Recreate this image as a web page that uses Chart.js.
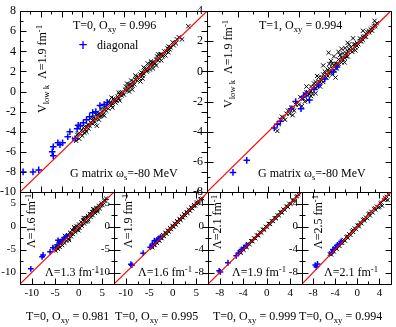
<!DOCTYPE html>
<html>
<head>
<meta charset="utf-8">
<script src="https://cdn.jsdelivr.net/npm/chart.js@4.4.0/dist/chart.umd.min.js"></script>
<style>
  body { margin: 0; width: 396px; height: 327px; background: #fff; position: relative; overflow: hidden; font-family: "Liberation Serif", serif; }
  canvas { position: absolute; left: 0; top: 0; }
  .lbl { position: absolute; white-space: nowrap; font-size: 12px; line-height: 1; color: #000; }
  .lbl sub { font-size: 0.72em; vertical-align: -0.35em; line-height: 0; }
  .lbl sup { font-size: 0.72em; vertical-align: 0.5em; line-height: 0; }
  .rot { transform: translate(-50%, -50%) rotate(-90deg); }
  .mid { transform: translateY(-50%); }
</style>
</head>
<body>
<canvas id="tl" width="396" height="327"></canvas>
<canvas id="tr" width="396" height="327"></canvas>
<canvas id="b1" width="396" height="327"></canvas>
<canvas id="b2" width="396" height="327"></canvas>
<canvas id="b3" width="396" height="327"></canvas>
<canvas id="b4" width="396" height="327"></canvas>

<div class="lbl mid" style="left:73px;top:25px">T=0, O<sub>xy</sub> = 0.996</div>
<div class="lbl mid" style="left:259px;top:25px">T=1, O<sub>xy</sub> = 0.994</div>
<div class="lbl mid" style="left:78px;top:45px;color:#0000ff;font-weight:bold;font-family:'DejaVu Sans'">+</div>
<div class="lbl mid" style="left:97px;top:45px">diagonal</div>
<div class="lbl mid" style="left:70px;top:173px">G matrix &omega;<sub>s</sub>=-80 MeV</div>
<div class="lbl mid" style="left:258px;top:173px">G matrix &omega;<sub>s</sub>=-80 MeV</div>
<div class="lbl rot" style="left:42px;top:69px">V<sub>low k</sub>&nbsp;&nbsp;&Lambda;=1.9 fm<sup>-1</sup></div>
<div class="lbl rot" style="left:228px;top:64px">V<sub>low k</sub>&nbsp;&nbsp;&Lambda;=1.9 fm<sup>-1</sup></div>

<div class="lbl rot" style="left:31px;top:221px">&Lambda;=1.6 fm<sup>-1</sup></div>
<div class="lbl rot" style="left:128px;top:221px">&Lambda;=1.9 fm<sup>-1</sup></div>
<div class="lbl rot" style="left:217px;top:222px">&Lambda;=2.1 fm<sup>-1</sup></div>
<div class="lbl rot" style="left:318px;top:222px">&Lambda;=2.5 fm<sup>-1</sup></div>
<div class="lbl mid" style="left:45px;top:272px">&Lambda;=1.3 fm<sup>-1</sup></div>
<div class="lbl mid" style="left:138px;top:272px">&Lambda;=1.6 fm<sup>-1</sup></div>
<div class="lbl mid" style="left:232px;top:272px">&Lambda;=1.9 fm<sup>-1</sup></div>
<div class="lbl mid" style="left:324px;top:272px">&Lambda;=2.1 fm<sup>-1</sup></div>

<div class="lbl mid" style="left:26px;top:316px">T=0, O<sub>xy</sub> = 0.981</div>
<div class="lbl mid" style="left:115px;top:316px">T=0, O<sub>xy</sub> = 0.995</div>
<div class="lbl mid" style="left:213px;top:316px">T=0, O<sub>xy</sub> = 0.999</div>
<div class="lbl mid" style="left:299px;top:316px">T=0, O<sub>xy</sub> = 0.994</div>

<script>
// axis ranges (x and y share the same range in every panel)
const topLeftRange = [-10, 8];
const topRightRange = [-8, 4];
const wideRange = [-12.5, 7.5];
const narrowRange = [-10, 6];

// tick labels
const topLeftTicks = [-10, -8, -6, -4, -2, 0, 2, 4, 6, 8];
const topRightTicks = [-8, -6, -4, -2, 0, 2, 4];
const wideTicks = [-10, -5, 0, 5];
const narrowTicks = [-8, -4, 0, 4];

// top left: T=0, lambda 1.9
const tlBlack = [[-4.8,-4.7],[-4.6,-4.9],[-4.4,-4.2],[-4.2,-4.2],[-4.0,-4.4],[-3.9,-3.6],[-3.7,-3.8],[-3.5,-3.3],[-3.4,-3.7],[-3.2,-3.1],
  [-3.0,-3.2],[-2.9,-2.6],[-2.7,-2.7],[-2.6,-3.4],[-2.5,-2.3],[-2.3,-2.5],[-2.1,-2.0],[-2.0,-2.3],[-1.8,-1.5],[-1.6,-1.6],
  [-1.5,-1.7],[-1.3,-1.1],[-1.1,-1.2],[-1.0,-0.7],[-0.8,-1.1],[-0.6,-0.5],[-0.5,-0.7],[-0.3,-0.1],[-0.1,-0.1],[0.0,-0.3],
  [0.2,0.5],[0.4,0.3],[0.5,0.7],[0.7,0.5],[0.9,1.0],[1.0,0.7],[1.2,1.5],[1.4,1.4],[1.5,1.3],[1.7,1.9],
  [1.9,1.8],[2.0,2.3],[2.2,2.0],[2.4,2.5],[2.5,2.2],[2.7,2.9],[2.9,2.9],[3.0,2.8],[3.2,3.5],[3.4,3.3],
  [3.5,3.7],[3.7,3.5],[3.9,4.0],[4.1,4.0],[4.3,4.5],[4.5,4.4],[4.7,4.9],[5.0,4.8],[5.3,5.4],[5.6,5.2],[6.2,6.5],
  [-3.1,-2.6],[-2.2,-1.7],[-1.2,-0.6],[0.3,0.8],[1.1,1.6],[2.3,2.8],[3.3,3.7],[-0.4,-0.9],[1.6,1.0],[2.8,2.3],
  [4.0,3.6],[-4.3,-4.7],[-1.9,-2.4],[0.8,0.2],[3.6,3.1],
  [-4.5,-4.3],[-4.1,-3.9],[-3.8,-4.1],[-3.6,-3.5],[-3.3,-3.4],[-3.0,-2.9],[-2.8,-3.0],[-2.4,-2.2],[-2.2,-2.4],[-1.9,-1.8],
  [-1.7,-1.9],[-1.4,-1.2],[-1.2,-1.4],[-0.9,-0.8],[-0.7,-0.9],[-0.4,-0.3],[-0.2,-0.4],[0.1,0.2],[0.3,0.1],[0.6,0.7],
  [0.8,0.6],[1.1,1.2],[1.3,1.1],[1.6,1.7],[1.8,1.6],[2.1,2.2],[2.3,2.1],[2.6,2.7],[2.8,2.6],[3.1,3.2],
  [3.3,3.1],[3.6,3.7],[3.8,3.6],[4.2,4.3],[4.4,4.2],[4.8,4.6],[5.1,5.2],[-2.7,-2.3],[-1.5,-1.0],[-0.5,-0.1],
  [0.7,1.1],[1.9,2.4],[2.6,3.0],[-3.6,-4.0],[-2.4,-2.8],[-1.1,-1.6],[0.5,0.0],[1.8,1.3],[3.1,2.6],[4.3,3.9]];
const tlBlue = [[-9.7,-8.0],[-8.75,-8.0],[-8.2,-7.8],[-6.9,-6.0],[-6.8,-5.5],[-6.8,-6.4],[-6.35,-5.1],[-6.15,-5.3],[-5.9,-5.1],
  [-5.4,-4.5],[-5.2,-4.0],[-4.7,-4.7],[-4.5,-3.7],[-4.4,-3.35],[-4.2,-3.4],[-3.9,-3.1],[-3.6,-2.8],[-3.3,-2.5],[-3.0,-2.1],
  [-2.7,-2.0],[-2.3,-1.4],[-1.9,-1.3],[-1.6,-1.1]];

// top right: T=1, lambda 1.9
const trBlack = [[-3.3,-3.5],[-3.1,-3.0],[-2.9,-3.2],[-2.8,-2.8],[-2.6,-2.8],[-2.5,-2.4],[-2.3,-2.6],[-2.2,-2.2],[-2.0,-2.2],[-1.9,-1.7],
  [-1.7,-1.8],[-1.6,-2.0],[-1.5,-1.4],[-1.3,-1.5],[-1.2,-1.0],[-1.1,-1.5],[-1.0,-1.0],[-0.9,-0.7],[-0.8,-1.0],[-0.7,-0.4],
  [-0.6,-0.7],[-0.5,-0.4],[-0.4,-0.7],[-0.3,0.0],[-0.2,-0.2],[-0.1,-0.3],[0.0,0.2],[0.1,0.0],[0.2,0.5],[0.3,0.1],
  [0.4,0.5],[0.5,0.2],[0.6,0.8],[0.7,0.7],[0.8,0.6],[0.9,1.2],[1.0,0.9],[1.1,1.2],[1.2,1.0],[1.3,1.5],
  [1.4,1.4],[1.5,1.3],[1.6,1.8],[1.7,1.6],[1.8,1.9],[1.9,1.8],[2.0,2.2],[2.1,2.0],[2.2,2.3],[2.3,2.3],
  [2.4,2.3],[2.5,2.6],[2.6,2.6],[2.7,2.8],[2.8,2.7],[2.9,3.0],[3.0,3.0],[3.1,3.2],
  [-0.05,1.24],[0.3,1.0],[1.04,1.56],[0.6,1.3],[1.55,2.2],[2.2,2.7],[2.96,3.36],[-1.2,-1.64],[-0.9,-1.45],[0.4,-0.4],
  [-3.4,-3.95],[1.2,1.9],[-0.4,0.4],[-1.8,-2.3],[-2.4,-2.9],[0.1,0.7],[0.8,1.5],
  [-3.2,-3.2],[-3.0,-3.1],[-2.7,-2.6],[-2.4,-2.5],[-2.1,-2.1],[-1.8,-1.8],[-1.6,-1.5],[-1.4,-1.6],[-1.2,-1.3],[-1.0,-0.8],
  [-0.9,-1.1],[-0.7,-0.7],[-0.5,-0.6],[-0.4,-0.2],[-0.2,-0.4],[-0.1,0.1],[0.0,-0.1],[0.2,0.2],[0.3,0.4],[0.5,0.5],
  [0.6,0.5],[0.8,0.9],[0.9,0.8],[1.1,1.0],[1.2,1.3],[1.4,1.6],[1.5,1.5],[1.7,1.8],[1.8,1.7],[2.0,2.0],
  [2.2,2.1],[2.4,2.5],[2.6,2.7],[2.8,2.9],[3.0,3.1],[-1.5,-1.0],[-0.8,-0.3],[0.0,0.5],[0.7,1.1],[1.3,1.8],
  [-1.4,-1.9],[-0.6,-1.0],[0.2,-0.2],[1.0,0.6],[1.7,1.4]];
const trBlue = [[-6.3,-6.7],[-5.4,-5.9],[-3.6,-3.75],[-3.4,-3.5],[-3.2,-3.3],[-2.5,-2.47],[-1.85,-2.47],[-2.2,-2.0],[-1.7,-1.7],
  [-1.5,-1.45],[-1.3,-1.9],[-1.0,-1.2],[-0.7,-0.9],[-0.3,-0.5],[0.27,-0.04],[0.5,0.3]];

// bottom row, T=0
const b1Black = [[-5.2,-4.6],[-4.9,-5.3],[-4.7,-4.2],[-4.4,-4.9],[-4.2,-3.6],[-4.0,-4.5],[-3.7,-3.2],[-3.5,-4.1],[-3.3,-2.8],[-3.0,-3.6],
  [-2.8,-2.2],[-2.6,-3.1],[-2.3,-1.8],[-2.1,-2.7],[-1.9,-1.3],[-1.6,-2.2],[-1.4,-0.8],[-1.2,-1.7],[-0.9,-0.4],[-0.7,-1.2],
  [-0.5,0.1],[-0.2,-0.8],[0.0,0.5],[0.2,-0.3],[0.5,1.0],[0.7,0.1],[0.9,1.4],[1.2,0.6],[1.4,1.9],[1.6,1.0],
  [1.9,2.3],[2.1,1.5],[2.3,2.8],[2.6,2.0],[2.8,3.2],[3.0,2.4],[3.3,3.7],[3.5,2.9],[3.7,4.1],[4.0,3.5],
  [4.2,4.5],[4.5,3.9],[4.8,5.1],[5.1,4.6],[5.4,5.6],[5.8,6.1],
  [-4.5,-4.5],[-3.8,-3.8],[-3.1,-3.0],[-2.4,-2.4],[-1.7,-1.6],[-1.0,-1.0],[-0.3,-0.2],[0.4,0.4],[1.1,1.1],[1.8,1.8],
  [2.5,2.5],[3.2,3.1],[3.9,3.9],[4.6,4.5],[5.3,5.2],
  [-4.8,-4.6],[-4.3,-4.2],[-3.6,-3.6],[-2.9,-2.8],[-2.2,-2.1],[-1.5,-1.5],[-0.8,-0.7],[-0.1,0.0],[0.6,0.6],[1.3,1.4],
  [2.0,2.0],[2.7,2.7],[3.4,3.4],[4.1,4.1],[4.8,4.7],[5.6,5.7],[-3.0,-2.0],[-1.0,-0.1],[1.0,1.9],[3.0,3.8],
  [-2.0,-3.0],[0.0,-0.9],[2.0,1.1],[4.0,3.2]];
const b1Blue = [[-10.2,-9.2],[-7.8,-6.6],[-7.6,-6.2],[-6.1,-5.5],[-5.5,-4.6],[-4.6,-4.0],[-4.4,-3.0],[-3.9,-3.3],[-3.5,-2.9],[-3.0,-2.4],[-2.6,-2.1]];

const b2Black = [[-4.6,-4.4],[-4.3,-4.6],[-4.1,-3.8],[-3.8,-4.1],[-3.6,-3.3],[-3.3,-3.6],[-3.1,-2.8],[-2.8,-3.1],[-2.6,-2.3],[-2.3,-2.6],
  [-2.1,-1.8],[-1.8,-2.1],[-1.6,-1.3],[-1.3,-1.6],[-1.1,-0.8],[-0.8,-1.1],[-0.6,-0.3],[-0.3,-0.6],[-0.1,0.2],[0.2,-0.1],
  [0.4,0.7],[0.7,0.4],[0.9,1.2],[1.2,0.9],[1.4,1.7],[1.7,1.4],[1.9,2.2],[2.2,1.9],[2.4,2.7],[2.7,2.4],
  [2.9,3.2],[3.2,2.9],[3.4,3.7],[3.7,3.4],[3.9,4.2],[4.2,3.9],[4.5,4.7],[4.8,4.5],[5.1,5.3],[5.4,5.1],[5.8,5.9],[6.3,6.1],
  [-4.0,-4.0],[-3.0,-3.0],[-2.0,-2.0],[-1.0,-1.0],[0.0,0.0],[1.0,1.0],[2.0,2.0],[3.0,3.0],[4.0,4.0],[5.0,5.0],
  [-4.4,-4.3],[-3.5,-3.5],[-2.5,-2.5],[-1.5,-1.5],[-0.5,-0.5],[0.5,0.5],[1.5,1.5],[2.5,2.5],[3.5,3.5],[4.5,4.4],[5.5,5.5],[6.0,6.0]];
const b2Blue = [[-8.9,-8.2],[-8.7,-8.4],[-6.3,-5.8],[-4.8,-4.5],[-4.3,-3.8],[-3.9,-3.1],[-3.4,-3.0],[-3.1,-2.7],[-2.6,-2.3]];

const b3Black = [[-4.7,-4.5],[-4.4,-4.6],[-4.2,-4.0],[-3.9,-4.1],[-3.7,-3.5],[-3.4,-3.6],[-3.2,-3.0],[-2.9,-3.1],[-2.7,-2.5],[-2.4,-2.6],
  [-2.2,-2.0],[-1.9,-2.1],[-1.7,-1.5],[-1.4,-1.6],[-1.2,-1.0],[-0.9,-1.1],[-0.7,-0.5],[-0.4,-0.6],[-0.2,0.0],[0.1,-0.1],
  [0.3,0.5],[0.6,0.4],[0.8,1.0],[1.1,0.9],[1.3,1.5],[1.6,1.4],[1.8,2.0],[2.1,1.9],[2.3,2.5],[2.6,2.4],
  [2.8,3.0],[3.1,2.9],[3.3,3.5],[3.6,3.4],[3.8,4.0],[4.1,3.9],[4.4,4.6],[4.7,4.6],[5.0,5.2],[5.4,5.6],
  [-4.5,-4.4],[-3.5,-3.5],[-2.5,-2.5],[-1.5,-1.5],[-0.5,-0.5],[0.5,0.5],[1.5,1.5],[2.5,2.5],[3.5,3.5],[4.5,4.5],[5.2,5.3]];
const b3Blue = [[-8.1,-7.7],[-7.9,-7.9],[-6.6,-6.3],[-5.2,-5.1],[-4.8,-4.6],[-4.3,-4.0],[-3.9,-3.7],[-3.5,-3.3]];

const b4Black = [[-5.0,-4.8],[-4.7,-4.9],[-4.5,-4.3],[-4.2,-4.4],[-4.0,-3.8],[-3.7,-3.9],[-3.5,-3.3],[-3.2,-3.4],[-3.0,-2.8],[-2.7,-2.9],
  [-2.5,-2.3],[-2.2,-2.5],[-2.0,-1.8],[-1.7,-2.0],[-1.5,-1.3],[-1.2,-1.5],[-1.0,-0.8],[-0.7,-1.0],[-0.5,-0.3],[-0.2,-0.5],
  [0.0,0.2],[0.3,0.0],[0.5,0.7],[0.8,0.5],[1.0,1.2],[1.3,1.0],[1.5,1.6],[1.8,1.4],[2.0,2.2],[2.3,1.9],
  [2.5,2.6],[2.8,2.4],[3.0,3.1],[3.3,2.9],[3.5,3.5],[3.8,3.3],[4.0,3.4],[4.3,4.2],[4.5,3.6],[4.8,4.6],[5.1,4.7],[5.5,4.6],[5.7,5.5],
  [-4.8,-4.6],[-3.8,-3.6],[-2.8,-2.6],[-1.8,-1.7],[-0.8,-0.6],[0.2,0.3],[1.2,1.3],[2.2,2.3],[3.2,3.2],[4.2,4.0],[5.0,5.0],[5.3,5.2]];
const b4Blue = [[-7.6,-6.7],[-7.4,-7.0],[-7.2,-6.5],[-4.7,-4.6],[-4.4,-4.0],[-4.0,-3.7],[-3.6,-3.2],[-3.2,-3.0],[-2.9,-2.6]];

// frame + inward ticks on all four sides (xmgrace look)
const frameTicks = {
  id: 'frameTicks',
  afterDraw(chart, args, opts) {
    const { ctx, chartArea: a, scales } = chart;
    const L = Math.round(a.left) + 0.5, R = Math.round(a.right) + 0.5;
    const T = Math.round(a.top) + 0.5, B = Math.round(a.bottom) + 0.5;
    ctx.save();
    ctx.strokeStyle = '#000';
    ctx.lineWidth = 1;
    ctx.beginPath();
    const major = opts.step, minor = opts.step / 2;
    ['x', 'y'].forEach(k => {
      const s = scales[k];
      for (let v = Math.ceil(s.min / minor) * minor; v <= s.max + 1e-9; v += minor) {
        const p = Math.round(s.getPixelForValue(v)) + 0.5;
        const len = Math.abs(v / major - Math.round(v / major)) < 1e-6 ? 6 : 3;
        if (k === 'x') {
          ctx.moveTo(p, B); ctx.lineTo(p, B - len);
          ctx.moveTo(p, T); ctx.lineTo(p, T + len);
        } else {
          ctx.moveTo(L, p); ctx.lineTo(L + len, p);
          ctx.moveTo(R, p); ctx.lineTo(R - len, p);
        }
      }
    });
    ctx.rect(L, T, R - L, B - T);
    ctx.stroke();
    ctx.restore();
  }
};

const AXIS_W = 20, AXIS_H = 20;

function axis(range, ticks, size, horiz) {
  const a = {
    type: 'linear', min: range[0], max: range[1],
    grid: { display: false, drawTicks: false },
    border: { display: false },
    ticks: { display: ticks.length > 0, color: '#000', font: { family: 'Liberation Serif', size: size },
             padding: horiz ? 3 : 4, maxRotation: 0, autoSkip: false },
    afterFit: s => {
      if (horiz) s.height = ticks.length ? AXIS_H : 0;
      else s.width = AXIS_W;
    }
  };
  if (ticks.length) a.afterBuildTicks = s => { s.ticks = ticks.map(v => ({ value: v })); };
  return a;
}

function panel(id, box, range, yTicks, xTicks, step, black, blue, size, r) {
  const [lo, hi] = range;
  const xh = xTicks.length ? AXIS_H : 0;
  new Chart(document.getElementById(id), {
    type: 'scatter',
    data: {
      datasets: [
        { data: [{ x: lo, y: lo }, { x: hi, y: hi }], showLine: true, borderColor: '#ff0000', borderWidth: 1.2,
          pointRadius: 0, order: 0 },
        { data: blue.map(([x, y]) => ({ x, y })), pointStyle: 'cross', pointRadius: r + 0.3,
          pointBorderColor: '#0000ff', pointBorderWidth: 1.5, order: 1 },
        { data: black.map(([x, y]) => ({ x, y })), pointStyle: 'crossRot', pointRadius: r,
          pointBorderColor: '#000000', pointBorderWidth: 1, order: 2 }
      ]
    },
    options: {
      responsive: false, animation: false, events: [],
      layout: { padding: { left: box[0] - AXIS_W, top: box[1], right: 396 - box[2], bottom: 327 - box[3] - xh } },
      plugins: { legend: { display: false }, tooltip: { enabled: false }, frameTicks: { step: step } },
      scales: { x: axis(range, xTicks, size, true), y: axis(range, yTicks, size, false) }
    },
    plugins: [frameTicks]
  });
}

panel('tl', [20, 5, 207, 192], topLeftRange, topLeftTicks, [], 2, tlBlack, tlBlue, 12, 3);
panel('tr', [207, 5, 394, 192], topRightRange, topRightTicks, [], 2, trBlack, trBlue, 12, 3);
panel('b1', [20, 192, 114, 284], wideRange, wideTicks, wideTicks, 5, b1Black, b1Blue, 11, 2.6);
panel('b2', [114, 192, 208, 284], wideRange, wideTicks, wideTicks, 5, b2Black, b2Blue, 11, 2.6);
panel('b3', [208, 192, 302, 284], narrowRange, narrowTicks, narrowTicks, 4, b3Black, b3Blue, 11, 2.6);
panel('b4', [302, 192, 394, 284], narrowRange, narrowTicks, narrowTicks, 4, b4Black, b4Blue, 11, 2.6);
</script>
</body>
</html>
